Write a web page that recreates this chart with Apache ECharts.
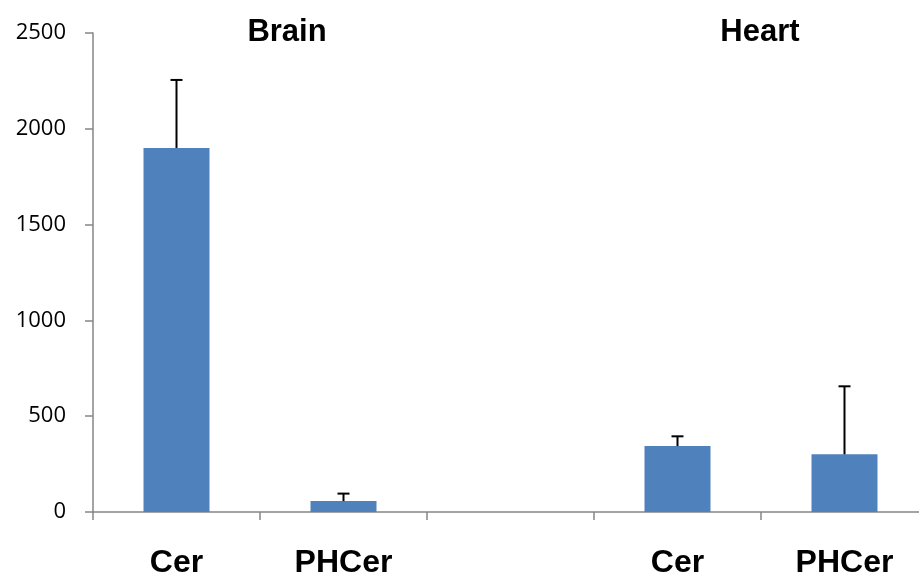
<!DOCTYPE html>
<html>
<head>
<meta charset="utf-8">
<script src="https://cdn.jsdelivr.net/npm/echarts@6/dist/echarts.min.js"></script>
<style>html,body{margin:0;padding:0;background:#fff;overflow:hidden;width:919px;height:577px}#c{width:928px;height:577px}</style>
</head>
<body>
<div id="c"></div>
<script>
var categories = ['Cer', 'PHCer', '', 'Cer', 'PHCer'];
var values = [1900, 57, null, 344, 301];
var errorTop = [2255, 96, null, 395, 656];
var yTicks = [0, 500, 1000, 1500, 2000, 2500];
var groupTitles = ['Brain', 'Heart'];

var chart = echarts.init(document.getElementById('c'));
var errData = categories.map(function (c, i) { return [i, values[i], errorTop[i]]; })
  .filter(function (d) { return d[1] != null; });

chart.setOption({
  animation: false,
  title: [
    { text: groupTitles[0], left: 282, top: 12, textAlign: 'center',
      textStyle: { fontFamily: 'Liberation Sans', fontWeight: 'bold', fontSize: 31, color: '#000' } },
    { text: groupTitles[1], left: 755, top: 12, textAlign: 'center',
      textStyle: { fontFamily: 'Liberation Sans', fontWeight: 'bold', fontSize: 31, color: '#000' } }
  ],
  grid: { left: 93, top: 33, right: 0, bottom: 65, containLabel: false, outerBoundsMode: 'none' },
  xAxis: {
    type: 'category',
    data: categories,
    axisLine: { lineStyle: { color: '#868686', width: 1.5 } },
    axisTick: { show: true, length: 8, lineStyle: { color: '#868686', width: 1.5 } },
    axisLabel: { color: '#000', fontFamily: 'Liberation Sans', fontWeight: 'bold', fontSize: 32, margin: 35, interval: 0 }
  },
  yAxis: {
    type: 'value',
    min: yTicks[0], max: yTicks[yTicks.length - 1], interval: 500,
    splitLine: { show: false },
    axisLine: { show: true, lineStyle: { color: '#868686', width: 1.5 } },
    axisTick: { show: true, length: 8, lineStyle: { color: '#868686', width: 1.5 } },
    axisLabel: { color: '#000', fontFamily: 'Open Sans', fontSize: 22, margin: 27,
      formatter: function (v) { return String(v); } }
  },
  series: [
    {
      type: 'bar',
      data: values,
      barWidth: 66,
      itemStyle: { color: '#4F81BD' }
    },
    {
      type: 'custom',
      data: errData,
      z: 10,
      renderItem: function (params, api) {
        var x = api.value(0);
        var base = api.coord([x, api.value(1)]);
        var top = api.coord([x, api.value(2)]);
        var half = 6;
        return {
          type: 'group',
          children: [
            { type: 'line', shape: { x1: base[0], y1: base[1], x2: top[0], y2: top[1] },
              style: { stroke: '#000', lineWidth: 2 } },
            { type: 'line', shape: { x1: top[0] - half, y1: top[1], x2: top[0] + half, y2: top[1] },
              style: { stroke: '#000', lineWidth: 2 } }
          ]
        };
      }
    }
  ]
});
</script>
</body>
</html>
